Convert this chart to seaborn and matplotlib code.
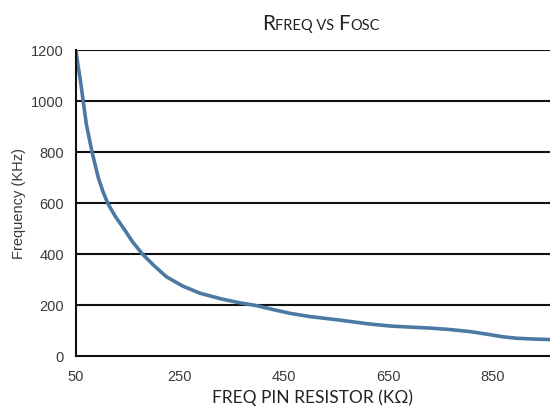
import numpy as np
import pandas as pd
import matplotlib
matplotlib.use('Agg')
import matplotlib.pyplot as plt
import seaborn as sns

# values
resistor_kohm = [50, 54, 58, 64, 70, 76, 81, 87, 93, 102, 111, 125, 144, 160, 178,
                 200, 224, 255, 288, 330, 365, 397, 430, 461, 500, 558, 610, 654,
                 700, 731, 770, 808, 840, 870, 897, 930, 961]
freq_khz = [1200, 1140, 1090, 1000, 910, 850, 800, 750, 700, 645, 600, 550, 494, 445, 400,
            355, 311, 275, 247, 224, 209, 198, 182, 168, 155, 141, 127, 118,
            113, 110, 104, 96, 86, 76, 70, 67, 65]
x_ticks = [50, 250, 450, 650, 850]
y_ticks = [0, 200, 400, 600, 800, 1000, 1200]

df = pd.DataFrame({'R': resistor_kohm, 'F': freq_khz})

sns.set_style('white')
plt.rcParams['font.family'] = ['Liberation Sans', 'DejaVu Sans']

fig = plt.figure(figsize=(5.5, 4.07), dpi=100)
ax = fig.add_axes([0.138, 0.125, 0.862, 0.752])

sns.lineplot(data=df, x='R', y='F', ax=ax, color='#4c78a4', linewidth=2.6,
             solid_joinstyle='round', solid_capstyle='round')

ax.set_xlim(50, 961)
ax.set_ylim(0, 1200)
ax.set_xticks(x_ticks)
ax.set_yticks(y_ticks)
ax.tick_params(axis='both', labelsize=10.5, colors='#111111', labelcolor='#3a3a3a',
               length=5, width=1.2)
ax.tick_params(axis='x', direction='inout', length=8, pad=6)
ax.tick_params(axis='y', direction='out')

for v in y_ticks[1:]:
    ax.axhline(v, color='#111111', linewidth=1.5, zorder=0)

for s in ['top', 'right']:
    ax.spines[s].set_visible(False)
for s in ['left', 'bottom']:
    ax.spines[s].set_color('#111111')
    ax.spines[s].set_linewidth(1.5)

ax.set_xlabel('FREQ PIN RESISTOR (KΩ)', fontsize=12.5, family=['Lato', 'DejaVu Sans'],
              color='#222222', labelpad=4)
ax.set_ylabel('Frequency (KHz)', fontsize=10.5, color='#3a3a3a', labelpad=4)

# small caps style title, pieces placed one after another
parts = [('R', 15), ('FREQ VS ', 10.5), ('F', 15), ('OSC', 10.5)]
ty = 0.926
pieces = [fig.text(0, ty, txt, fontsize=size, family='Lato', color='#222222',
                   ha='left', va='baseline') for txt, size in parts]

fig.canvas.draw()
r = fig.canvas.get_renderer()
widths = [p.get_window_extent(r).width for p in pieces]
x0 = 321.0 - sum(widths) / 2
W = fig.bbox.width
for p, w in zip(pieces, widths):
    p.set_position((x0 / W, ty))
    x0 += w

fig.savefig('out.png', dpi=100)
